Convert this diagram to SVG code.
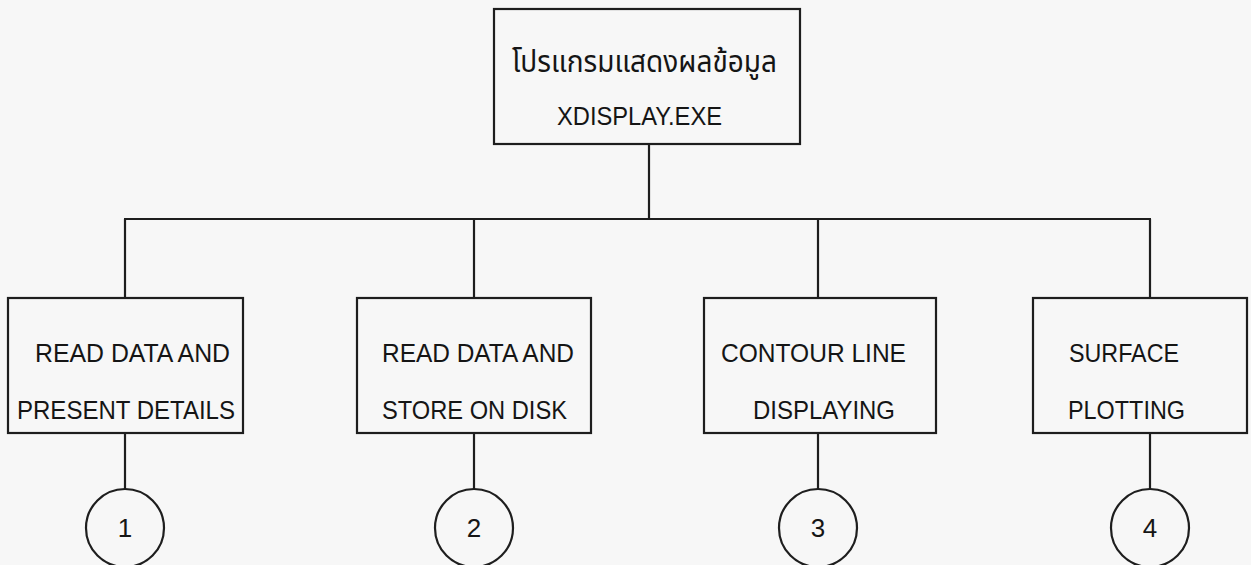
<svg xmlns="http://www.w3.org/2000/svg" width="1251" height="565" viewBox="0 0 1251 565">
<style>
.box{fill:none;stroke:#1e1e1e;stroke-width:2.2}
.ln{fill:none;stroke:#1e1e1e;stroke-width:2.2}
.t{font-family:"Liberation Sans",Arial,sans-serif;font-size:26px;fill:#151515}
.th{font-family:"Noto Sans Thai","Noto Sans","Liberation Sans",sans-serif;font-size:31px;fill:#151515}
.n{font-family:"Liberation Sans",Arial,sans-serif;font-size:26px;fill:#151515;text-anchor:middle}
</style>
<rect width="1251" height="565" fill="#f7f7f7"/>
<g id="connectors">
<line class="ln" x1="649" y1="144" x2="649" y2="219"/>
<line class="ln" x1="124" y1="219" x2="1151" y2="219"/>
<line class="ln" x1="125" y1="219" x2="125" y2="298"/>
<line class="ln" x1="474" y1="219" x2="474" y2="298"/>
<line class="ln" x1="818" y1="219" x2="818" y2="298"/>
<line class="ln" x1="1150" y1="219" x2="1150" y2="298"/>
<line class="ln" x1="125" y1="433" x2="125" y2="489"/>
<line class="ln" x1="474" y1="433" x2="474" y2="489"/>
<line class="ln" x1="818" y1="433" x2="818" y2="489"/>
<line class="ln" x1="1150" y1="433" x2="1150" y2="489"/>
</g>
<g id="root">
<rect class="box" x="494" y="9" width="306" height="135"/>
<text class="th" x="512" y="72" textLength="265" lengthAdjust="spacingAndGlyphs">โปรแกรมแสดงผลข้อมูล</text>
<text class="t" x="557" y="125" textLength="165" lengthAdjust="spacingAndGlyphs">XDISPLAY.EXE</text>
</g>
<g id="node1">
<rect class="box" x="8" y="298" width="235" height="135"/>
<text class="t" x="35" y="362" textLength="195" lengthAdjust="spacingAndGlyphs">READ DATA AND</text>
<text class="t" x="17" y="419" textLength="218" lengthAdjust="spacingAndGlyphs">PRESENT DETAILS</text>
</g>
<g id="node2">
<rect class="box" x="357" y="298" width="234" height="135"/>
<text class="t" x="382" y="362" textLength="192" lengthAdjust="spacingAndGlyphs">READ DATA AND</text>
<text class="t" x="382" y="419" textLength="185" lengthAdjust="spacingAndGlyphs">STORE ON DISK</text>
</g>
<g id="node3">
<rect class="box" x="704" y="298" width="232" height="135"/>
<text class="t" x="721" y="362" textLength="185" lengthAdjust="spacingAndGlyphs">CONTOUR LINE</text>
<text class="t" x="753" y="419" textLength="142" lengthAdjust="spacingAndGlyphs">DISPLAYING</text>
</g>
<g id="node4">
<rect class="box" x="1033" y="298" width="214" height="135"/>
<text class="t" x="1069" y="362" textLength="110" lengthAdjust="spacingAndGlyphs">SURFACE</text>
<text class="t" x="1068" y="419" textLength="117" lengthAdjust="spacingAndGlyphs">PLOTTING</text>
</g>
<g id="c1"><circle class="box" cx="125" cy="528" r="39"/><text class="n" x="125" y="537">1</text></g>
<g id="c2"><circle class="box" cx="474" cy="528" r="39"/><text class="n" x="474" y="537">2</text></g>
<g id="c3"><circle class="box" cx="818" cy="528" r="39"/><text class="n" x="818" y="537">3</text></g>
<g id="c4"><circle class="box" cx="1150" cy="528" r="39"/><text class="n" x="1150" y="537">4</text></g>
</svg>
